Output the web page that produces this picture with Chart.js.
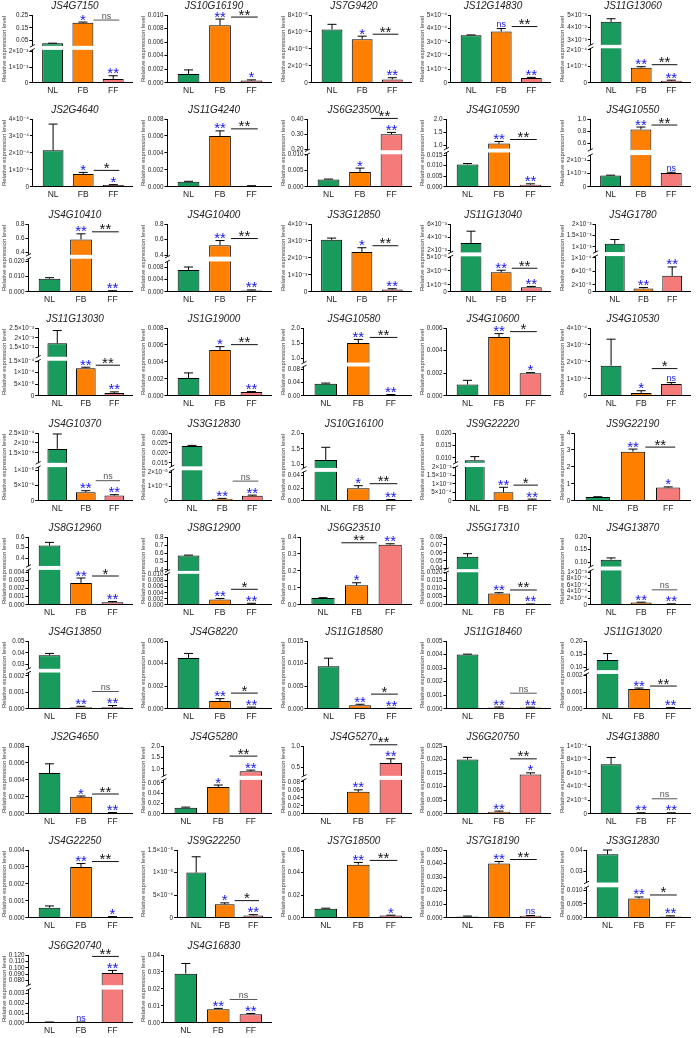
<!DOCTYPE html>
<html><head><meta charset="utf-8">
<script src="https://cdn.jsdelivr.net/npm/chart.js@4.4.1/dist/chart.umd.min.js"></script>
<style>
html,body{margin:0;padding:0;background:#fff;}
#wrap{position:relative;width:697px;height:1038px;overflow:hidden;}
canvas{position:absolute;}
</style></head><body><div id="wrap"></div>
<script>
const categories = ['NL', 'FB', 'FF'];
const genes = ['JS4G7150','JS10G16190','JS7G9420','JS12G14830','JS11G13060',
 'JS2G4640','JS11G4240','JS6G23500','JS4G10590','JS4G10550',
 'JS4G10410','JS4G10400','JS3G12850','JS11G13040','JS4G1780',
 'JS11G13030','JS1G19000','JS4G10580','JS4G10600','JS4G10530',
 'JS4G10370','JS3G12830','JS10G16100','JS9G22220','JS9G22190',
 'JS8G12960','JS8G12900','JS6G23510','JS5G17310','JS4G13870',
 'JS4G13850','JS4G8220','JS11G18580','JS11G18460','JS11G13020',
 'JS2G4650','JS4G5280','JS4G5270','JS6G20750','JS4G13880',
 'JS4G22250','JS9G22250','JS7G18500','JS7G18190','JS3G12830',
 'JS6G20740','JS4G16830'];
const nlMean = [0.03,0.0013,6.3e-5,3.5e-4,4.45e-3, 2.15e-4,0.0006,0.0023,0.0105,0.85e-3,
 0.0085,0.007,3.07e-3,3.1e-3,1.13e-3, 1.72e-3,0.0021,0.037,0.001,1.78e-4,
 1.7e-4,0.0235,1.15,0.009,0.22, 0.52,0.575,0.04,0.055,0.11,
 0.038,0.0045,0.0094,0.004,0.129, 0.0048,0.012,0.0003,0.020,7.3e-5,
 0.0006,1.0e-5,0.008,0.001,0.038, 0.00005,0.029];
const fbMean = [0.19,0.0085,5.15e-5,3.78e-4,0.92e-4, 0.75e-4,0.006,0.0046,1.07,0.83,
 0.58,0.53,2.35e-3,2.8e-5,1.0e-5, 1.2e-4,0.0054,1.5,0.0052,0.17e-4,
 2.8e-6,1.4e-6,0.02,0.5e-3,2.9, 0.0027,0.0018,0.115,0.007,0.7e-4,
 0.0001,0.0007,0.0008,0.0001,0.0012, 0.002,0.052,0.055,0.0008,0.1e-5,
 0.003,0.3e-5,0.047,0.040,0.007, 0.00005,0.008];
const ffMean = [0.00025,0.00033,0.4e-5,0.35e-4,0.12e-4, 0.1e-4,0.0001,0.30,0.001,1.05e-3,
 0.0005,0.0004,0.13e-3,0.65e-5,4.7e-5, 1.2e-5,0.00045,0.002,0.002,0.7e-4,
 1.7e-6,3.5e-6,0.001,0.06e-3,0.78, 0.0003,0.0003,0.355,0.0003,0.2e-4,
 0.0001,0.0001,0.0001,0.0001,0.00005, 0.0001,0.9,0.6,0.0145,0.1e-5,
 0.00005,0.05e-5,0.002,0.0015,0.0005, 0.092,0.005];
const nlErr = [0.0008,0.0006,0.6e-5,0.03e-4,0.25e-3, 1.55e-4,0.00005,0.0001,0.0005,0.03e-3,
 0.0007,0.001,0.1e-3,1.8e-3,0.19e-3, 0.65e-3,0.0006,0.002,0.00037,1.56e-4,
 0.75e-4,0.0003,0.4,0.0015,0.02, 0.03,0.005,0.002,0.004,0.007,
 0.0015,0.0004,0.0018,0.00003,0.024, 0.0011,0.001,0.0001,0.0008,1e-5,
 0.0001,0.35e-5,0.0005,0.0003,0.002, 0.00003,0.006];
const fbErr = [0.005,0.0009,0.35e-5,0.22e-4,0.06e-4, 0.1e-4,0.0006,0.0012,0.08,0.04,
 0.08,0.06,0.25e-3,0.3e-5,0.25e-5, 0.04e-4,0.0004,0.12,0.0003,0.13e-4,
 0.5e-6,0.3e-6,0.004,0.3e-3,0.15, 0.0006,0.0003,0.015,0.0005,0.1e-4,
 0.00005,0.0002,0.0002,0.00003,0.00005, 0.0001,0.004,0.005,0.0002,0.05e-5,
 0.0002,0.03e-5,0.002,0.0015,0.0005, 0.00003,0.0005];
const ffErr = [0.0002,0.0001,0.2e-5,0.05e-4,0.04e-4, 0.03e-4,0.00003,0.012,0.0004,0.05e-3,
 0.0002,0.0002,0.05e-3,0.12e-5,2.6e-5, 0.5e-5,0.00005,0.002,0.00005,0.08e-4,
 0.3e-6,0.5e-6,0.001,0.04e-3,0.04, 0.0001,0.0002,0.005,0.0002,0.1e-4,
 0.0001,0.00005,0.00005,0.00002,0.00002, 0.00005,0.05,0.1,0.0006,0.05e-5,
 0.00002,0.02e-5,0.0003,0.0002,0.0002, 0.004,0.0005];
const fbSig = ['*','**','*','ns','**', '*','**','*','**','**', '**','**','*','**','**',
 '**','*','**','**','*', '**','**','*','**','**', '**','**','*','**','**',
 '**','**','**','**','**', '*','*','**','**','**', '**','*','**','**','**', 'ns','**'];
const ffSig = ['**','*','**','**','**', '*','','**','**','ns', '**','**','**','**','**',
 '**','**','**','*','ns', '**','**','**','**','*', '**','**','**','**','**',
 '**','**','**','**','**', '**','**','**','*','**', '*','**','*','ns','**', '**','**'];
const cmpSig = ['ns','**','**','**','**', '*','**','**','**','**', '**','**','**','**','',
 '**','**','**','*','*', 'ns','ns','**','*','**', '*','*','**','**','ns',
 'ns','*','*','ns','**', '**','**','**','**','ns', '**','*','**','**','*', '**','ns'];
const axisTop = [0.25,0.010,8e-5,5e-4,5e-3, 4e-4,0.008,0.40,2.0,1.0,
 0.8,0.8,4e-3,6e-3,2e-3, 2.5e-3,0.008,2.0,0.006,4e-4,
 2.5e-4,0.030,2.0,0.020,4, 0.6,0.8,0.4,0.08,0.20,
 0.05,0.006,0.015,0.005,0.20, 0.008,2.0,1.0,0.025,1e-4,
 0.004,1.5e-5,0.06,0.050,0.04, 0.12,0.04];
const tickVals = [
 [0,0.001,0.002,0.05,0.15,0.25],
 [0,0.002,0.004,0.006,0.008,0.010],
 [0,2e-5,4e-5,6e-5,8e-5],
 [0,1e-4,2e-4,3e-4,4e-4,5e-4],
 [0,1e-4,2e-4,3e-3,4e-3,5e-3],
 [0,1e-4,2e-4,3e-4,4e-4],
 [0,0.002,0.004,0.006,0.008],
 [0,0.005,0.010,0.20,0.30,0.40],
 [0,0.005,0.010,0.015,1.0,1.5,2.0],
 [0,1e-3,2e-3,0.6,0.8,1.0],
 [0,0.010,0.020,0.4,0.6,0.8],
 [0,0.004,0.008,0.4,0.6,0.8],
 [0,1e-3,2e-3,3e-3,4e-3],
 [0,1e-5,3e-5,5e-5,2e-3,4e-3,6e-3],
 [0,2e-5,6e-5,1e-4,1e-3,1.5e-3,2e-3],
 [0,5e-5,1e-4,1.5e-4,1.5e-3,2e-3,2.5e-3],
 [0,0.002,0.004,0.006,0.008],
 [0,0.04,0.08,1.0,1.5,2.0],
 [0,0.002,0.004,0.006],
 [0,1e-4,2e-4,3e-4,4e-4],
 [0,5e-6,1e-5,1.5e-4,2e-4,2.5e-4],
 [0,1e-5,2e-5,0.015,0.020,0.025,0.030],
 [0,0.02,0.04,1.0,1.5,2.0],
 [0,5e-4,1e-3,1.5e-3,2e-3,0.010,0.015,0.020],
 [0,1,2,3,4],
 [0,0.001,0.002,0.003,0.004,0.4,0.5,0.6],
 [0,0.002,0.004,0.006,0.008,0.010,0.4,0.5,0.6,0.7,0.8],
 [0,0.1,0.2,0.3,0.4],
 [0,0.005,0.010,0.015,0.020,0.04,0.05,0.06,0.07,0.08],
 [0,2e-4,4e-4,6e-4,8e-4,1e-3,0.10,0.15,0.20],
 [0,0.001,0.002,0.03,0.04,0.05],
 [0,0.002,0.004,0.006],
 [0,0.005,0.010,0.015],
 [0,0.001,0.002,0.003,0.004,0.005],
 [0,0.001,0.002,0.10,0.15,0.20],
 [0,0.002,0.004,0.006,0.008],
 [0,0.02,0.04,0.06,1.0,1.5,2.0],
 [0,0.02,0.04,0.06,0.08,0.5,1.0],
 [0,0.005,0.010,0.015,0.020,0.025],
 [0,2e-5,4e-5,6e-5,8e-5,1e-4],
 [0,0.001,0.002,0.003,0.004],
 [0,5e-6,1e-5,1.5e-5],
 [0,0.02,0.04,0.06],
 [0,0.010,0.020,0.030,0.040,0.050],
 [0,0.005,0.010,0.03,0.04],
 [0,0.001,0.002,0.003,0.080,0.090,0.100,0.110,0.120],
 [0,0.01,0.02,0.03,0.04]];
const tickText = [
 ['0','1×10⁻³','2×10⁻³','0.05','0.15','0.25'],
 ['0.000','0.002','0.004','0.006','0.008','0.010'],
 ['0','2×10⁻⁵','4×10⁻⁵','6×10⁻⁵','8×10⁻⁵'],
 ['0','1×10⁻⁴','2×10⁻⁴','3×10⁻⁴','4×10⁻⁴','5×10⁻⁴'],
 ['0','1×10⁻⁴','2×10⁻⁴','3×10⁻³','4×10⁻³','5×10⁻³'],
 ['0','1×10⁻⁴','2×10⁻⁴','3×10⁻⁴','4×10⁻⁴'],
 ['0.000','0.002','0.004','0.006','0.008'],
 ['0.000','0.005','0.010','0.20','0.30','0.40'],
 ['0.000','0.005','0.010','0.015','1.0','1.5','2.0'],
 ['0','1×10⁻³','2×10⁻³','0.6','0.8','1.0'],
 ['0.000','0.010','0.020','0.4','0.6','0.8'],
 ['0.000','0.004','0.008','0.4','0.6','0.8'],
 ['0','1×10⁻³','2×10⁻³','3×10⁻³','4×10⁻³'],
 ['0','1×10⁻⁵','3×10⁻⁵','5×10⁻⁵','2×10⁻³','4×10⁻³','6×10⁻³'],
 ['0','2×10⁻⁵','6×10⁻⁵','1×10⁻⁴','1×10⁻³','1.5×10⁻³','2×10⁻³'],
 ['0','5×10⁻⁵','1×10⁻⁴','1.5×10⁻⁴','1.5×10⁻³','2×10⁻³','2.5×10⁻³'],
 ['0.000','0.002','0.004','0.006','0.008'],
 ['0.00','0.04','0.08','1.0','1.5','2.0'],
 ['0.000','0.002','0.004','0.006'],
 ['0','1×10⁻⁴','2×10⁻⁴','3×10⁻⁴','4×10⁻⁴'],
 ['0','5×10⁻⁶','1×10⁻⁵','1.5×10⁻⁴','2×10⁻⁴','2.5×10⁻⁴'],
 ['0','1×10⁻⁵','2×10⁻⁵','0.015','0.020','0.025','0.030'],
 ['0.00','0.02','0.04','1.0','1.5','2.0'],
 ['0','5×10⁻⁴','1×10⁻³','1.5×10⁻³','2×10⁻³','0.010','0.015','0.020'],
 ['0','1','2','3','4'],
 ['0.000','0.001','0.002','0.003','0.004','0.4','0.5','0.6'],
 ['0.000','0.002','0.004','0.006','0.008','0.010','0.4','0.5','0.6','0.7','0.8'],
 ['0.0','0.1','0.2','0.3','0.4'],
 ['0.000','0.005','0.010','0.015','0.020','0.04','0.05','0.06','0.07','0.08'],
 ['0','2×10⁻⁴','4×10⁻⁴','6×10⁻⁴','8×10⁻⁴','1×10⁻³','0.10','0.15','0.20'],
 ['0.000','0.001','0.002','0.03','0.04','0.05'],
 ['0.000','0.002','0.004','0.006'],
 ['0.000','0.005','0.010','0.015'],
 ['0.000','0.001','0.002','0.003','0.004','0.005'],
 ['0.000','0.001','0.002','0.10','0.15','0.20'],
 ['0.000','0.002','0.004','0.006','0.008'],
 ['0.00','0.02','0.04','0.06','1.0','1.5','2.0'],
 ['0.00','0.02','0.04','0.06','0.08','0.5','1.0'],
 ['0.000','0.005','0.010','0.015','0.020','0.025'],
 ['0','2×10⁻⁵','4×10⁻⁵','6×10⁻⁵','8×10⁻⁵','1×10⁻⁴'],
 ['0.000','0.001','0.002','0.003','0.004'],
 ['0','5×10⁻⁶','1×10⁻⁵','1.5×10⁻⁵'],
 ['0.00','0.02','0.04','0.06'],
 ['0.000','0.010','0.020','0.030','0.040','0.050'],
 ['0.000','0.005','0.010','0.03','0.04'],
 ['0.000','0.001','0.002','0.003','0.080','0.090','0.100','0.110','0.120'],
 ['0.00','0.01','0.02','0.03','0.04']];
// axis breaks: [top of lower segment, bottom of upper segment]
const breakAt = [[0.0021,0.01],null,null,null,[2.1e-4,2.6e-3],
 null,null,[0.0101,0.195],[0.0162,0.88],[2.4e-3,0.5],
 [0.0215,0.36],[0.0098,0.385],null,[5.1e-5,1.65e-3],[1.05e-4,0.77e-3],
 [1.52e-4,1.04e-3],null,[0.09,0.85],null,null,
 [1.1e-5,1.0e-4],[2.15e-5,0.0133],[0.046,0.9],[2.0e-3,0.008],null,
 [0.0043,0.33],[0.0103,0.388],null,[0.0202,0.0395],[1.05e-3,0.083],
 [0.0022,0.0265],null,null,null,[0.0021,0.091],
 null,[0.066,0.7],[0.085,0.3],null,null,
 null,null,null,null,[0.011,0.025],
 [0.0034,0.073],null];
// layout: where the break sits, as fraction of plot height
const breakFrac = [[0.486,0.545],null,null,null,[0.509,0.56],
 null,null,[0.48,0.539],[0.506,0.563],[0.468,0.544],
 [0.4875,0.545],[0.448,0.518],null,[0.523,0.581],[0.527,0.586],
 [0.517,0.576],null,[0.433,0.49],null,null,
 [0.497,0.56],[0.45,0.508],[0.427,0.485],[0.498,0.56],null,
 [0.515,0.573],[0.457,0.5],null,[0.48,0.526],[0.507,0.565],
 [0.535,0.59],null,null,null,[0.514,0.57],
 null,[0.5,0.56],[0.5,0.56],null,null,
 null,null,null,null,[0.45,0.52],
 [0.49,0.555],null];

const COLORS = ['#189B5D', '#FF8000', '#F57B7B'];
const BLUE = '#1515F5';
Chart.defaults.font.family = '"Liberation Sans", "DejaVu Sans", Arial, sans-serif';

class BrokenScale extends Chart.LinearScale {
  determineDataLimits() { const i = +this.chart.canvas.dataset.i; this.min = 0; this.max = axisTop[i]; }
  buildTicks() { const i = +this.chart.canvas.dataset.i; return tickVals[i].map(v => ({value: v})); }
  getPixelForValue(value) {
    if (value == null || isNaN(value)) return NaN;
    const i = +this.chart.canvas.dataset.i;
    const top = axisTop[i], b = breakAt[i], f = breakFrac[i];
    let dec;
    if (!b) dec = value / top;
    else if (value <= b[0]) dec = value / b[0] * f[0];
    else if (value >= b[1]) dec = f[1] + (value - b[1]) / (top - b[1]) * (1 - f[1]);
    else dec = f[0] + (value - b[0]) / (b[1] - b[0]) * (f[1] - f[0]);
    return this.getPixelForDecimal(dec);
  }
  getValueForPixel(pixel) { return 0; }
}
BrokenScale.id = 'broken';
BrokenScale.defaults = {};
Chart.register(BrokenScale);

function drawSig(ctx, text, x, bottom, color) {
  ctx.save();
  ctx.fillStyle = color;
  ctx.font = (text === 'ns' ? '9px' : '15px') + ' "Liberation Sans", "DejaVu Sans", sans-serif';
  ctx.textAlign = 'center';
  ctx.textBaseline = 'alphabetic';
  const m = ctx.measureText(text);
  ctx.fillText(text, x, bottom - m.actualBoundingBoxDescent);
  ctx.restore();
}

const panelPlugin = {
  id: 'panel',
  afterDatasetsDraw(chart) {
    const i = +chart.canvas.dataset.i;
    const ctx = chart.ctx, ys = chart.scales.y, ca = chart.chartArea;
    const meta = chart.getDatasetMeta(0);
    const vals = [nlMean[i], fbMean[i], ffMean[i]], errs = [nlErr[i], fbErr[i], ffErr[i]];
    ctx.save();
    const b = breakAt[i];
    if (b) {
      const yLow = ys.getPixelForValue(b[0]);
      const yHigh = ys.getPixelForValue(b[1]);
      ctx.fillStyle = '#fff';
      ctx.fillRect(ca.left - 1.5, yHigh, ca.right - ca.left + 1.5, yLow - yHigh);
      ctx.strokeStyle = '#000'; ctx.lineWidth = 0.9;
      [yLow, yHigh].forEach(y => {
        ctx.beginPath(); ctx.moveTo(ca.left - 2.5, y + 1.3); ctx.lineTo(ca.left + 2.5, y - 1.3); ctx.stroke();
      });
    }
    ctx.strokeStyle = '#000'; ctx.lineWidth = 1;
    meta.data.forEach((el, j) => {
      const yt = ys.getPixelForValue(vals[j] + errs[j]);
      ctx.beginPath();
      ctx.moveTo(el.x, el.y); ctx.lineTo(el.x, yt);
      ctx.moveTo(el.x - 4.5, yt); ctx.lineTo(el.x + 4.5, yt);
      ctx.stroke();
    });
    ctx.restore();
  },
  afterDraw(chart) {
    const i = +chart.canvas.dataset.i;
    const ctx = chart.ctx, ys = chart.scales.y, ca = chart.chartArea;
    const meta = chart.getDatasetMeta(0);
    const vals = [nlMean[i], fbMean[i], ffMean[i]], errs = [nlErr[i], fbErr[i], ffErr[i]];
    const topPx = j => ys.getPixelForValue(vals[j] + errs[j]);
    const sig = [null, fbSig[i], ffSig[i]];
    for (let j = 1; j < 3; j++) {
      if (sig[j]) drawSig(ctx, sig[j], meta.data[j].x, topPx(j) - 1.5, BLUE);
    }
    if (cmpSig[i]) {
      const pitch = meta.data[2].x - meta.data[1].x;
      let ly = Math.min(topPx(1) - 2, topPx(2) - 14);
      let x1 = meta.data[1].x + 0.35 * pitch, x2 = meta.data[2].x + 0.2 * pitch;
      if (ly < ca.top - 4) {
        // tall FF bar: place the comparison beside the FF stars
        ly = Math.min(topPx(2) - 1, topPx(1) - 14);
        x1 = meta.data[1].x - 0.45 * pitch;
        x2 = meta.data[2].x - 0.4 * pitch;
      }
      ly = Math.max(ly, 12);
      const col = cmpSig[i] === 'ns' ? '#555' : '#111';
      ctx.save();
      ctx.strokeStyle = col; ctx.lineWidth = 1;
      ctx.beginPath(); ctx.moveTo(x1, ly); ctx.lineTo(x2, ly); ctx.stroke();
      ctx.restore();
      drawSig(ctx, cmpSig[i], (x1 + x2) / 2, ly - 1.5, col);
    }
    ctx.save();
    ctx.fillStyle = '#222';
    ctx.font = 'italic 10px "Liberation Sans", "DejaVu Sans", sans-serif';
    ctx.textAlign = 'center'; ctx.textBaseline = 'middle';
    ctx.fillText(genes[i], 75, 9.5);
    ctx.restore();
  }
};

const wrap = document.getElementById('wrap');
genes.forEach((g, i) => {
  const col = i % 5, row = Math.floor(i / 5);
  const cv = document.createElement('canvas');
  cv.width = 139; cv.height = 107;
  cv.style.left = Math.round(col * 139.4) + 'px';
  cv.style.top = (Math.round(row * 104.4) - 3) + 'px';
  cv.dataset.i = i;
  wrap.appendChild(cv);
  new Chart(cv.getContext('2d'), {
    type: 'bar',
    data: { datasets: [{
      data: [{x: 0, y: nlMean[i]}, {x: 1, y: fbMean[i]}, {x: 2, y: ffMean[i]}],
      backgroundColor: COLORS, borderColor: '#000', borderWidth: 1,
      barPercentage: 0.69, categoryPercentage: 1
    }]},
    options: {
      responsive: false, animation: false, events: [],
      layout: { padding: { left: 0, right: 7, top: 18, bottom: 5 } },
      plugins: { legend: { display: false }, tooltip: { enabled: false }, title: { display: false } },
      scales: {
        x: {
          type: 'linear', min: -0.67, max: 2.62, bounds: 'data', offset: false,
          afterBuildTicks: s => { s.ticks = [0, 1, 2].map(v => ({value: v})); },
          ticks: { callback: v => categories[v], font: { size: 8.5 }, color: '#222', padding: 3, autoSkip: false, maxRotation: 0 },
          grid: { display: false, drawTicks: false, offset: false },
          border: { color: '#000', width: 1 }
        },
        y: {
          type: 'broken',
          ticks: { callback: (v, k) => tickText[i][k], font: { size: 6.3 }, color: '#222', padding: 1, autoSkip: false },
          grid: { drawOnChartArea: false, color: '#000', tickLength: 3, lineWidth: 1 },
          border: { color: '#000', width: 1 },
          title: { display: true, text: 'Relative expression level', font: { size: 6 }, color: '#333', padding: { top: 0.5, bottom: 0 } }
        }
      }
    },
    plugins: [panelPlugin]
  });
});
</script></body></html>
